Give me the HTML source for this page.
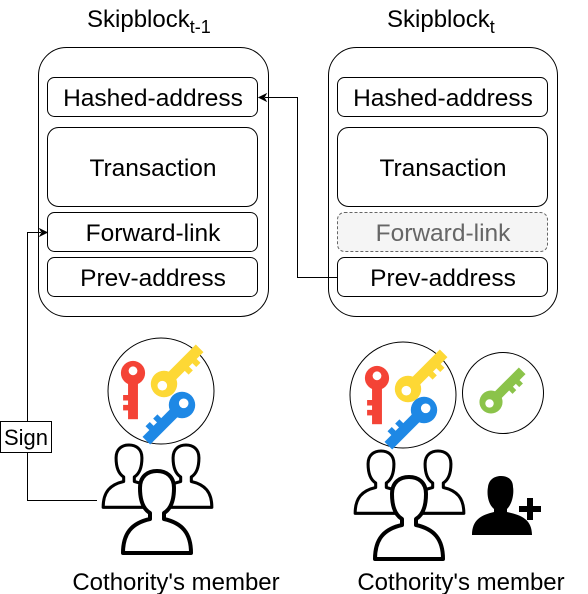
<!DOCTYPE html>
<html><head><meta charset="utf-8"><style>
html,body{margin:0;padding:0;background:#fff;}
svg{display:block;font-family:"Liberation Sans",Arial,sans-serif;}
</style></head><body>
<svg width="588" height="594" viewBox="0 0 588 594" xmlns="http://www.w3.org/2000/svg">
<defs>
<g id="key">
<circle cx="0" cy="0" r="11"/>
<rect x="-4.5" y="6" width="9" height="36"/>
<rect x="-9" y="20" width="6" height="5"/>
<rect x="-9" y="29" width="6" height="5"/>
<circle cx="0" cy="-2" r="4" fill="#fff"/>
</g>
<path id="person" d="M -7,42 C -17,36 -17,22 -17,17 C -17,5 -9,0 0,0 C 9,0 17,5 17,17 C 17,22 17,36 7,42 L 7,48 C 25,52 34,62 34,82 L -34,82 C -34,62 -25,52 -7,48 Z" fill="#fff" stroke="#000" stroke-width="4" stroke-linejoin="round"/>
</defs>

<text x="87" y="27" font-size="24">Skipblock<tspan font-size="18" dy="6">t-1</tspan></text>
<text x="387" y="27" font-size="24">Skipblock<tspan font-size="18" dy="6">t</tspan></text>

<g fill="#fff" stroke="#000" stroke-width="1">
<rect x="38.5" y="47.5" width="230" height="269" rx="28"/>
<rect x="328.5" y="47.5" width="229" height="269" rx="28"/>
<rect x="47.5" y="77.5" width="210" height="39" rx="7"/>
<rect x="47.5" y="127.5" width="210" height="79" rx="11"/>
<rect x="47.5" y="212.5" width="210" height="39" rx="7"/>
<rect x="47.5" y="257.5" width="210" height="39" rx="7"/>
<rect x="337.5" y="77.5" width="210" height="39" rx="7"/>
<rect x="337.5" y="127.5" width="210" height="79" rx="11"/>
<rect x="337.5" y="212.5" width="210" height="39" rx="7" fill="#f5f5f5" stroke="#666" stroke-dasharray="3,2"/>
<rect x="337.5" y="257.5" width="210" height="39" rx="7"/>
</g>
<g font-size="24.5" text-anchor="middle">
<text x="153" y="106">Hashed-address</text>
<text x="153" y="176">Transaction</text>
<text x="153" y="241">Forward-link</text>
<text x="153" y="286">Prev-address</text>
<text x="443" y="106">Hashed-address</text>
<text x="443" y="176">Transaction</text>
<text x="443" y="241" fill="#666">Forward-link</text>
<text x="443" y="286">Prev-address</text>
</g>

<path d="M337,277.5 H297.5 V97.5 H265" fill="none" stroke="#000"/>
<path d="M259,97.5 L266,94 L264,97.5 L266,101 Z" fill="#000" stroke="#000"/>
<path d="M97,500.5 H27.5 V232.5 H41" fill="none" stroke="#000"/>
<path d="M47,232.5 L40,229 L42,232.5 L40,236 Z" fill="#000" stroke="#000"/>
<rect x="0.5" y="421.5" width="51" height="31" fill="#fff" stroke="#000"/>
<text x="26" y="445" font-size="22" text-anchor="middle">Sign</text>

<circle cx="161" cy="391" r="53" fill="#fff" stroke="#000"/>
<circle cx="403" cy="395" r="53" fill="#fff" stroke="#000"/>
<circle cx="503" cy="393" r="40.5" fill="#fff" stroke="#000"/>

<use href="#key" transform="translate(133,373) scale(1.1)" fill="#f44336"/>
<use href="#key" transform="translate(164,384) rotate(-135) scale(1.2)" fill="#fdd835"/>
<use href="#key" transform="translate(182,405) rotate(45) scale(1.2)" fill="#1e88e5"/>
<use href="#key" transform="translate(377,378) scale(1.1)" fill="#f44336"/>
<use href="#key" transform="translate(408,389) rotate(-135) scale(1.2)" fill="#fdd835"/>
<use href="#key" transform="translate(424,410) rotate(45) scale(1.2)" fill="#1e88e5"/>
<use href="#key" transform="translate(491,402) rotate(-135) scale(1.05)" fill="#8bc34a"/>

<use href="#person" transform="translate(129,445) scale(0.76)"/>
<use href="#person" transform="translate(186,445) scale(0.76)"/>
<use href="#person" transform="translate(157,471)"/>
<use href="#person" transform="translate(381,451) scale(0.76)"/>
<use href="#person" transform="translate(438,451) scale(0.76)"/>
<use href="#person" transform="translate(409,477)"/>

<path d="M494,509 C487,503 487,492 488,487 C489,479 495,476 501,476 C507,476 513,479 513,487 C514,492 513,503 507,509 L507,512 C522,515 532,520 532,535 L472,535 C472,520 481,515 494,512 Z" fill="#000"/>
<rect x="527" y="498" width="6" height="22" fill="#000"/>
<rect x="519" y="506" width="22" height="6" fill="#000"/>

<text x="176" y="590" font-size="24" text-anchor="middle">Cothority's member</text>
<text x="461" y="590" font-size="24" text-anchor="middle">Cothority's member</text>
</svg>
</body></html>
